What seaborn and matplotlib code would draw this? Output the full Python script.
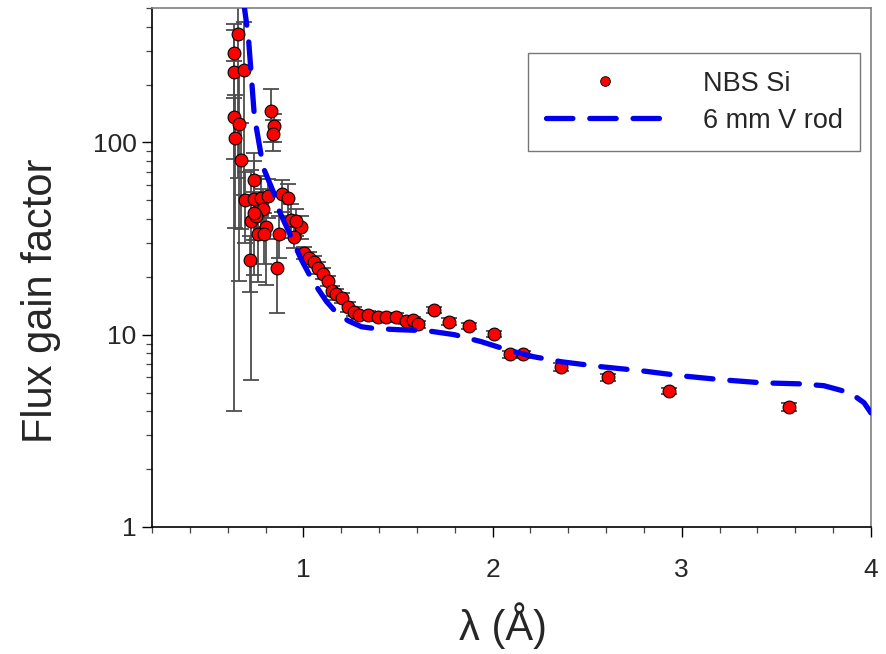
import matplotlib
matplotlib.use("Agg")
import matplotlib.pyplot as plt
import matplotlib.ticker as mticker
from matplotlib.lines import Line2D
import seaborn as sns
import pandas as pd

# NBS Si measured flux gain (lambda in Angstrom, gain, error)
lam_si = [0.656, 0.635, 0.635, 0.688, 0.635, 0.661, 0.640, 0.831, 0.847, 0.841,
          0.672, 0.741, 0.693, 0.741, 0.778, 0.815, 0.889, 0.921, 0.788, 0.725,
          0.751, 0.741, 0.937, 0.989, 0.963, 0.804, 0.762, 0.794, 0.873, 0.952,
          0.720, 0.862,
          1.005, 1.032, 1.058, 1.079, 1.106, 1.132, 1.153, 1.175, 1.206, 1.238,
          1.265, 1.296, 1.344, 1.392, 1.439, 1.492, 1.545, 1.580, 1.608,
          1.693, 1.772, 1.878, 2.010, 2.090, 2.160, 2.360, 2.610, 2.930, 3.566]
gain_si = [365, 291, 232, 237, 135, 124, 106, 145, 121, 110,
           80.6, 63.4, 49.9, 50.5, 51.5, 52.5, 53.6, 51.1, 45.3, 38.8,
           41.2, 43.2, 39.7, 36.5, 38.8, 36.1, 33.2, 33.2, 33.2, 32.4,
           24.6, 22.3,
           26.7, 25.2, 24.0, 22.3, 20.8, 19.1, 16.9, 16.2, 15.6, 14.0,
           13.2, 12.7, 12.7, 12.4, 12.3, 12.4, 11.8, 11.9, 11.3,
           13.5, 11.7, 11.1, 10.1, 7.9, 7.9, 6.8, 6.0, 5.1, 4.2]
err_si = [300, 120, 150, 184, 131, 105, 70, 45, 20, 20,
          45, 25, 20, 30, 15, 12, 10, 10, 12, 33,
          10, 12, 8, 5, 6, 18, 14.5, 10, 8, 4,
          8, 9.3,
          2.0, 1.8, 1.6, 1.5, 1.3, 1.2, 1.0, 1.0, 0.9, 0.8,
          0.7, 0.6, 0.6, 0.6, 0.6, 0.6, 0.5, 0.5, 0.5,
          0.5, 0.5, 0.4, 0.4, 0.3, 0.3, 0.3, 0.25, 0.2, 0.2]

# 6 mm V rod calculation
lam_rod = [0.680, 0.688, 0.709, 0.725, 0.741, 0.762, 0.788, 0.847, 0.862, 0.937,
           0.989, 1.032, 1.069, 1.122, 1.175, 1.238, 1.307, 1.376, 1.519, 1.651,
           1.799, 1.942, 2.074, 2.217, 2.365, 2.577, 2.788, 3.000, 3.212, 3.423,
           3.630, 3.751, 3.889, 3.963, 4.000]
gain_rod = [600, 505, 357, 221, 137, 104, 74, 53.6, 46.4, 32.0,
            24.6, 20.5, 17.8, 14.9, 13.0, 11.8, 11.0, 10.77, 10.6, 10.5,
            10.0, 9.19, 8.36, 7.68, 7.23, 6.81, 6.49, 6.11, 5.83, 5.62,
            5.55, 5.43, 4.99, 4.43, 3.92]

si = pd.DataFrame({"lam": lam_si, "gain": gain_si, "err": err_si})
rod = pd.DataFrame({"lam": lam_rod, "gain": gain_rod})

sns.set_style("ticks")
plt.rcParams["font.family"] = ["Liberation Sans", "DejaVu Sans"]

fig = plt.figure(figsize=(8.86, 6.54), dpi=100)
ax = fig.add_axes([152 / 886, 127 / 654, 719 / 886, 519 / 654])

# error bars first, then markers, then the dashed curve on top
ax.errorbar(si["lam"], si["gain"], yerr=si["err"], fmt="none",
            ecolor="#4d4d4d", elinewidth=1.3, capsize=6, capthick=1.3, zorder=2)
sns.scatterplot(data=si, x="lam", y="gain", ax=ax, color="#ff0000",
                edgecolor="black", linewidth=0.8, s=85, zorder=3, legend=False)
sns.lineplot(data=rod, x="lam", y="gain", ax=ax, color="#0000ee",
             linewidth=3.8, sort=False, zorder=4, legend=False)
rod_line = ax.lines[-1]
rod_line.set_dashes((5.0, 3.2))
rod_line.set_dash_capstyle("round")

ax.set_yscale("log")
ax.set_xlim(0.2, 4.0)
ax.set_ylim(1, 500)

ax.xaxis.set_major_locator(mticker.FixedLocator([1, 2, 3, 4]))
ax.xaxis.set_minor_locator(mticker.MultipleLocator(0.2))
ax.xaxis.set_major_formatter(mticker.FormatStrFormatter("%d"))
ax.yaxis.set_major_locator(mticker.FixedLocator([1, 10, 100]))
ax.yaxis.set_major_formatter(mticker.FormatStrFormatter("%d"))
ax.yaxis.set_minor_locator(mticker.LogLocator(base=10, subs=range(2, 10)))
ax.yaxis.set_minor_formatter(mticker.NullFormatter())

ax.tick_params(axis="both", which="major", labelsize=19, length=7, width=1.0,
               color="black", direction="out")
ax.tick_params(axis="both", which="minor", length=4, width=0.9, color="#444444",
               direction="out")
ax.tick_params(axis="x", which="major", pad=15)
ax.tick_params(axis="y", which="major", pad=4)

for side in ["left", "bottom"]:
    ax.spines[side].set_color("black")
    ax.spines[side].set_linewidth(1.2)
for side in ["top", "right"]:
    ax.spines[side].set_visible(True)
    ax.spines[side].set_color("#7f7f7f")
    ax.spines[side].set_linewidth(1.2)

ax.set_xlabel("λ (Å)", fontsize=30)
ax.set_ylabel("Flux gain factor", fontsize=30)
ax.xaxis.set_label_coords(0.488, -0.145)
ax.yaxis.set_label_coords(-0.127, 0.435)

handles = [
    Line2D([], [], marker="o", linestyle="none", markerfacecolor="#ff0000",
           markeredgecolor="black", markeredgewidth=0.6, markersize=7),
    Line2D([], [], color="#0000ee", linewidth=3.8, dashes=(5.0, 3.2),
           dash_capstyle="round"),
]
leg = ax.legend(handles, ["NBS Si", "6 mm V rod"], loc="upper right",
                bbox_to_anchor=(0.985, 0.913), borderaxespad=0, fontsize=19.5,
                frameon=True, fancybox=False, edgecolor="#555555",
                handlelength=4.4, handletextpad=1.4, borderpad=0.65,
                labelspacing=0.4)
leg.get_frame().set_linewidth(1.0)

fig.savefig("out.png", dpi=100)
